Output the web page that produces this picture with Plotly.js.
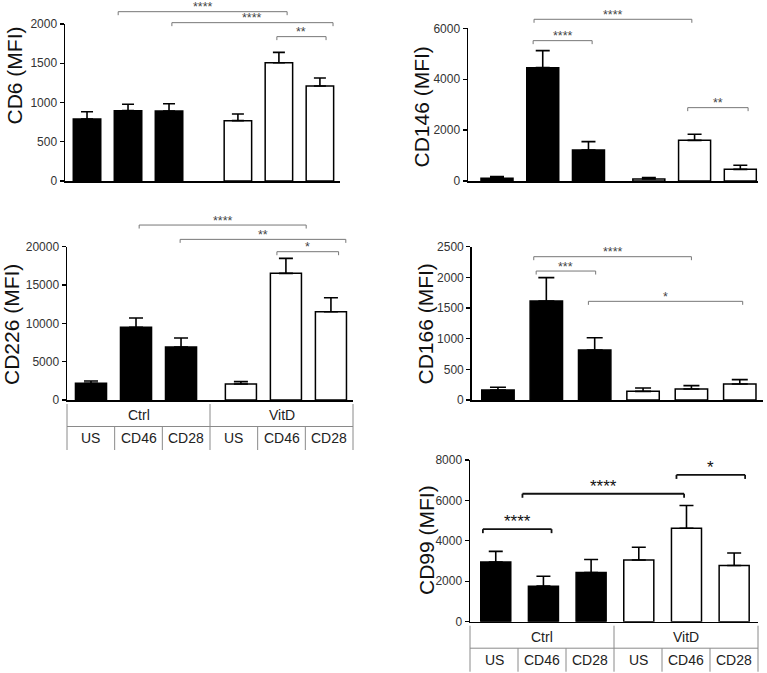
<!DOCTYPE html>
<html><head><meta charset="utf-8">
<script src="https://cdn.plot.ly/plotly-3.0.1.min.js"></script>
<style>html,body{margin:0;padding:0;background:#fff}</style>
</head><body><div id="chart" style="width:767px;height:673px"></div>
<script>
// ---------- data ----------
const treatments = ['Ctrl', 'VitD'];
const stimuli = ['US', 'CD46', 'CD28', 'US', 'CD46', 'CD28'];

const cd6 = [790, 896, 892, 769, 1507, 1210];
const cd6Err = [93, 81, 93, 84, 132, 102];
const cd146 = [105, 4454, 1218, 79, 1598, 458];
const cd146Err = [65, 668, 328, 52, 236, 158];
const cd226 = [2174, 9478, 6913, 2087, 16522, 11522];
const cd226Err = [304, 1218, 1174, 304, 1956, 1826];
const cd166 = [163, 1614, 815, 141, 179, 261];
const cd166Err = [44, 381, 201, 55, 55, 71];
const cd99 = [2950, 1760, 2430, 3050, 4620, 2780];
const cd99Err = [530, 490, 650, 630, 1130, 620];

// significance brackets: [from, to, level, label]
const cd6Sig = [[0.76, 4.88, 2157, '****'], [2.07, 6.0, 2017, '****'], [4.63, 5.83, 1839, '**']];
const cd146Sig = [[0.81, 4.26, 6354, '****'], [0.79, 2.08, 5515, '****'], [4.17, 5.49, 2882, '**']];
const cd226Sig = [[1.07, 4.78, 22826, '****'], [1.98, 5.66, 20957, '**'], [4.13, 5.5, 19348, '*']];
const cd166Sig = [[0.74, 4.0, 2337, '****'], [0.79, 2.02, 2103, '***'], [1.87, 5.06, 1609, '*']];
const cd99Sig = [[-0.27, 1.17, 4578, '****'], [0.56, 3.95, 6330, '****'], [3.79, 5.23, 7262, '*']];

// ---------- layout config ----------
const W = 767, H = 673;
const panels = [
  {title: 'CD6 (MFI)', y: cd6, err: cd6Err, sig: cd6Sig, box: [65, 24, 340, 181], ymax: 2000, dtick: 500,
   xr: [-0.537, 6.17], pos: [0, 1, 2, 3.68, 4.68, 5.68], bw: 0.67, cap: 6, tpos: [13.5, 76], table: false, bold: false},
  {title: 'CD146 (MFI)', y: cd146, err: cd146Err, sig: cd146Sig, box: [468, 28.3, 757.7, 181], ymax: 6000, dtick: 2000,
   xr: [-0.634, 5.70], pos: [0, 1, 2, 3.32, 4.32, 5.32], bw: 0.70, cap: 7, tpos: [421, 107.5], table: false, bold: false},
  {title: 'CD226 (MFI)', y: cd226, err: cd226Err, sig: cd226Sig, box: [67, 246.7, 353, 400], ymax: 20000, dtick: 5000,
   xr: [-0.533, 5.82], pos: [0, 1, 2, 3.33, 4.33, 5.33], bw: 0.69, cap: 7, tpos: [11, 325], table: true, bold: false},
  {title: 'CD166 (MFI)', y: cd166, err: cd166Err, sig: cd166Sig, box: [471.7, 246.7, 763, 400], ymax: 2500, dtick: 500,
   xr: [-0.543, 5.48], pos: [0, 1, 2, 3, 4, 5], bw: 0.67, cap: 8, tpos: [425, 323.5], table: false, bold: false},
  {title: 'CD99 (MFI)', y: cd99, err: cd99Err, sig: cd99Sig, box: [470, 460, 758, 621.7], ymax: 8000, dtick: 2000,
   xr: [-0.54, 5.5], pos: [0, 1, 2, 3, 4, 5], bw: 0.63, cap: 7, tpos: [426, 540], table: true, bold: true}
];

const FONT = 'Liberation Sans, Arial, sans-serif';
const traces = [];
const layout = {
  width: W, height: H, margin: {l: 0, r: 0, t: 0, b: 0},
  paper_bgcolor: '#fff', plot_bgcolor: 'rgba(0,0,0,0)',
  showlegend: false, font: {family: FONT, color: '#222'},
  shapes: [], annotations: []
};

panels.forEach((p, i) => {
  const n = i === 0 ? '' : String(i + 1);
  const xa = 'x' + n, ya = 'y' + n;
  const plotH = p.box[3] - p.box[1];
  traces.push({
    type: 'bar', x: p.pos, y: p.y, xaxis: xa, yaxis: ya, width: p.bw,
    marker: {color: p.y.map((v, k) => k < 3 ? '#000' : '#fff'), line: {color: '#000', width: 1.5}},
    error_y: {type: 'data', symmetric: false, array: p.err, arrayminus: p.err.map(() => 0),
              color: '#000', thickness: 1.6, width: p.cap},
    hoverinfo: 'skip'
  });
  layout['xaxis' + n] = {
    domain: [p.box[0] / W, p.box[2] / W], anchor: ya, range: p.xr,
    showline: true, linecolor: '#000', linewidth: 1.5, showticklabels: false, ticks: '',
    showgrid: false, zeroline: false, fixedrange: true
  };
  layout['yaxis' + n] = {
    domain: [1 - p.box[3] / H, 1 - p.box[1] / H], anchor: xa, range: [0, p.ymax],
    tickmode: 'linear', tick0: 0, dtick: p.dtick, tickformat: 'd',
    ticks: 'outside', ticklen: 4, tickwidth: 1.3, tickcolor: '#000',
    showline: true, linecolor: '#000', linewidth: 1.5, showgrid: false, zeroline: false,
    tickfont: {family: FONT, size: 12, color: '#333'}, fixedrange: true
  };
  // y title
  layout.annotations.push({
    xref: 'paper', yref: 'paper', x: p.tpos[0] / W, y: 1 - p.tpos[1] / H, text: p.title, textangle: -90,
    showarrow: false, xanchor: 'center', yanchor: 'middle', font: {family: FONT, size: 21, color: '#111'}
  });
  // significance brackets
  const lc = p.bold ? '#111' : '#777', lw = p.bold ? 1.8 : 1;
  const tip = (p.bold ? 4 : 3.5) / plotH;
  p.sig.forEach(([a, b, lev, lab]) => {
    const f = lev / p.ymax;
    const yd = ya + ' domain';
    layout.shapes.push({type: 'line', xref: xa, yref: yd, x0: a, x1: b, y0: f, y1: f, line: {color: lc, width: lw}});
    layout.shapes.push({type: 'line', xref: xa, yref: yd, x0: a, x1: a, y0: f, y1: f - tip, line: {color: lc, width: lw}});
    layout.shapes.push({type: 'line', xref: xa, yref: yd, x0: b, x1: b, y0: f, y1: f - tip, line: {color: lc, width: lw}});
    layout.annotations.push({
      xref: xa, yref: yd, x: (a + b) / 2, y: f, text: lab, showarrow: false, xanchor: 'center', yanchor: 'bottom',
      yshift: p.bold ? -4 : -4.5,
      font: {family: FONT, size: p.bold ? 17 : 12.5, color: p.bold ? '#111' : '#444'}
    });
  });
  // category table below the axis
  if (p.table) {
    const xd = xa + ' domain', yd = ya + ' domain';
    const top = -4 / plotH, mid = -26.5 / plotH, bot = -50 / plotH;
    const tc = '#8a8a8a';
    [0, 3, 6].forEach(k => layout.shapes.push({type: 'line', xref: xd, yref: yd, x0: k / 6, x1: k / 6, y0: top, y1: bot, line: {color: tc, width: 1}}));
    [1, 2, 4, 5].forEach(k => layout.shapes.push({type: 'line', xref: xd, yref: yd, x0: k / 6, x1: k / 6, y0: mid, y1: bot, line: {color: tc, width: 1}}));
    layout.shapes.push({type: 'line', xref: xd, yref: yd, x0: 0, x1: 1, y0: mid, y1: mid, line: {color: tc, width: 1}});
    treatments.forEach((t, k) => layout.annotations.push({
      xref: xd, yref: yd, x: (k * 3 + 1.5) / 6, y: (top + mid) / 2, text: t, showarrow: false,
      xanchor: 'center', yanchor: 'middle', font: {family: FONT, size: 14, color: '#222'}
    }));
    stimuli.forEach((s, k) => layout.annotations.push({
      xref: xd, yref: yd, x: (k + 0.5) / 6, y: (mid + bot) / 2, text: s, showarrow: false,
      xanchor: 'center', yanchor: 'middle', font: {family: FONT, size: 14, color: '#222'}
    }));
  }
});

Plotly.newPlot('chart', traces, layout, {displayModeBar: false, staticPlot: true});
</script></body></html>
